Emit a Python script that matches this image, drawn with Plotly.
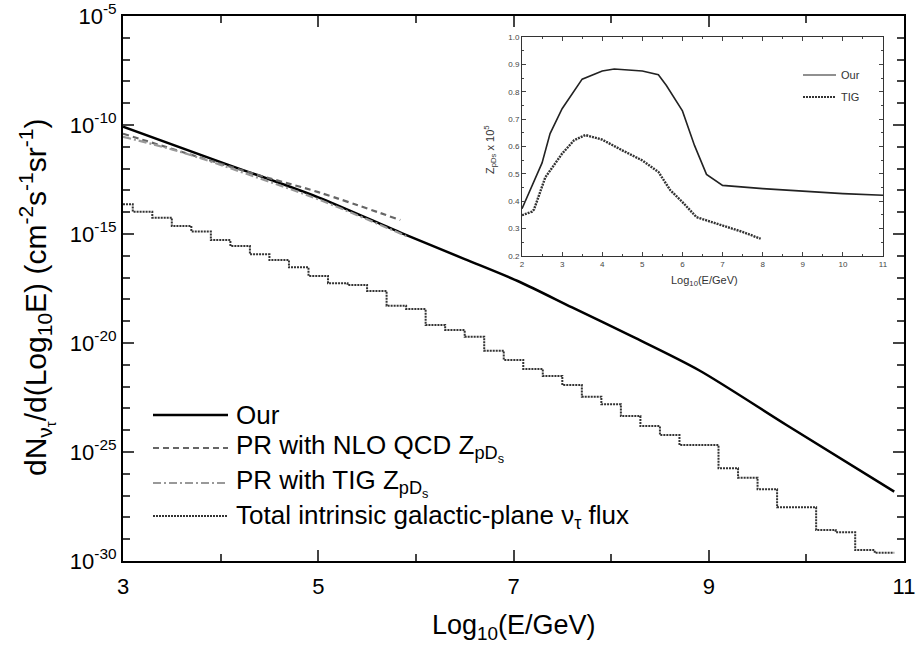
import numpy as np
import plotly.graph_objects as go

# ---- main panel (log10 of flux) ----
our_e = [3.0, 4.0, 5.0, 5.86, 6.5, 7.06, 7.6, 8.22, 8.9, 9.8, 10.9]
our_f = [-10.08, -11.70, -13.32, -14.97, -16.15, -17.19, -18.37, -19.71, -21.25, -23.77, -26.82]

nlo_e = [3.0, 4.38, 5.0, 5.84]
nlo_f = [-10.40, -12.29, -13.08, -14.36]

tig_e = [3.0, 3.6, 4.4, 5.0, 5.9]
tig_f = [-10.54, -11.25, -12.45, -13.41, -15.09]

# galactic-plane histogram, bin centres 3.0, 3.2 ... 10.8
gal_centres = [3.0 + 0.2 * i for i in range(40)]
gal_f = [-13.64, -13.98, -14.25, -14.63, -14.89, -15.28, -15.55, -15.93, -16.19, -16.53,
         -16.93, -17.26, -17.34, -17.61, -18.29, -18.44, -19.17, -19.40, -19.71, -20.35,
         -20.78, -21.19, -21.51, -21.93, -22.46, -22.81, -23.35, -23.81, -24.22, -24.68,
         -24.68, -25.75, -26.18, -26.71, -27.54, -27.54, -28.58, -28.68, -29.50, -29.62]

# ---- inset: Z_pDs x 10^5 ----
ins_our_e = [2.0, 2.5, 2.7, 3.0, 3.5, 4.0, 4.3, 5.0, 5.4, 5.6, 6.0, 6.3, 6.6, 7.0, 8.0, 9.0, 10.0, 11.0]
ins_our_z = [0.373, 0.54, 0.647, 0.738, 0.846, 0.876, 0.883, 0.876, 0.862, 0.823, 0.730, 0.604, 0.498,
             0.458, 0.446, 0.437, 0.428, 0.422]
ins_tig_e = [2.0, 2.25, 2.3, 2.58, 3.0, 3.3, 3.58, 4.0, 4.5, 5.0, 5.4, 5.7, 6.0, 6.35, 6.6, 7.0, 7.5, 7.95]
ins_tig_z = [0.349, 0.362, 0.37, 0.487, 0.574, 0.623, 0.642, 0.625, 0.586, 0.549, 0.507, 0.44, 0.397,
             0.342, 0.330, 0.312, 0.288, 0.263]

FONT = 'Liberation Sans, Arial, sans-serif'
ML, MR, MT, MB = 123, 13, 16, 92
W = 917 - ML - MR
H = 653 - MT - MB


def px(x):
    return (x - ML) / W


def py(y):
    return (653 - MB - y) / H


# histogram edges from centres
edges = [max(c - 0.1, 3.0) for c in gal_centres] + [gal_centres[-1] + 0.1]
gal_y = [10 ** v for v in gal_f] + [10 ** gal_f[-1]]

fig = go.Figure()

fig.add_trace(go.Scatter(x=our_e, y=[10 ** v for v in our_f], mode='lines',
                         line=dict(color='black', width=2.5, shape='spline', smoothing=0.8)))
fig.add_trace(go.Scatter(x=nlo_e, y=[10 ** v for v in nlo_f], mode='lines',
                         line=dict(color='#666666', width=2.2, dash='6px,4px', shape='spline')))
fig.add_trace(go.Scatter(x=tig_e, y=[10 ** v for v in tig_f], mode='lines',
                         line=dict(color='#999999', width=2.2, dash='8px,3px,2px,3px', shape='spline')))
fig.add_trace(go.Scatter(x=edges, y=gal_y, mode='lines', line_shape='hv',
                         line=dict(color='#333333', width=2, dash='2px,1px')))

# inset
fig.add_trace(go.Scatter(x=ins_our_e, y=ins_our_z, mode='lines', xaxis='x2', yaxis='y2',
                         line=dict(color='#222222', width=1.6)))
fig.add_trace(go.Scatter(x=ins_tig_e, y=ins_tig_z, mode='lines', xaxis='x2', yaxis='y2',
                         line=dict(color='#333333', width=2.4, dash='2px,1px')))

decades = list(range(-30, -4))
major = [-30, -25, -20, -15, -10, -5]

fig.update_layout(
    width=917, height=653,
    margin=dict(l=ML, r=MR, t=MT, b=MB),
    paper_bgcolor='white', plot_bgcolor='white',
    showlegend=False,
    font=dict(family=FONT, color='black'),
    xaxis=dict(range=[3, 11], tick0=3, dtick=2, ticks='inside', ticklen=11, tickwidth=2,
               mirror='allticks', showline=True, linewidth=2, linecolor='black',
               showgrid=False, zeroline=False, tickfont=dict(size=22), automargin=False,
               ticklabelstandoff=5,
               minor=dict(dtick=1, tick0=3, ticks='inside', ticklen=7, tickwidth=2)),
    yaxis=dict(type='log', range=[-30, -5],
               tickvals=[10.0 ** d for d in major],
               ticktext=['10<sup>%d</sup>' % d for d in major],
               ticks='inside', ticklen=11, tickwidth=2, automargin=False,
               mirror='allticks', showline=True, linewidth=2, linecolor='black',
               showgrid=False, zeroline=False, tickfont=dict(size=22),
               minor=dict(tickvals=[10.0 ** d for d in decades], ticks='inside', ticklen=7, tickwidth=2)),
    xaxis2=dict(domain=[px(522), px(883)], anchor='y2', range=[2, 11], dtick=1,
                ticks='inside', ticklen=4, tickwidth=1, mirror='allticks', showline=True,
                linewidth=1, linecolor='#333333', showgrid=False, zeroline=False,
                tickfont=dict(size=8, color='#444444'), automargin=False,
                minor=dict(dtick=0.5, ticks='inside', ticklen=2, tickwidth=1)),
    yaxis2=dict(domain=[py(256), py(37)], anchor='x2', range=[0.2, 1.0], dtick=0.1, tickformat='.1f',
                ticks='inside', ticklen=4, tickwidth=1, mirror='allticks', showline=True,
                linewidth=1, linecolor='#333333', showgrid=False, zeroline=False,
                tickfont=dict(size=8, color='#444444'), automargin=False,
                minor=dict(dtick=0.05, ticks='inside', ticklen=2, tickwidth=1)),
)

# axis titles
fig.add_annotation(xref='paper', yref='paper', x=px(514), y=py(627), showarrow=False,
                   xanchor='center', yanchor='middle',
                   text='Log<sub>10</sub>(E/GeV)', font=dict(size=27))
fig.add_annotation(xref='paper', yref='paper', x=px(36), y=py(297), showarrow=False, textangle=-90,
                   xanchor='center', yanchor='middle',
                   text='dN<sub>ν<sub>τ</sub></sub>/d(Log<sub>10</sub>E) (cm<sup>-2</sup>s<sup>-1</sup>sr<sup>-1</sup>)',
                   font=dict(size=30))
fig.add_annotation(xref='paper', yref='paper', x=px(704), y=py(281), showarrow=False,
                   xanchor='center', yanchor='middle',
                   text='Log<sub>10</sub>(E/GeV)', font=dict(size=11, color='#333333'))
fig.add_annotation(xref='paper', yref='paper', x=px(490), y=py(150), showarrow=False, textangle=-90,
                   xanchor='center', yanchor='middle',
                   text='Z<sub>pDs</sub> x 10<sup>5</sup>', font=dict(size=11, color='#333333'))

# main legend (bottom left)
legend_items = [
    ('Our', dict(color='black', width=2.5)),
    ('PR with NLO QCD Z<sub>pD<sub>s</sub></sub>', dict(color='#666666', width=2.2, dash='6px,4px')),
    ('PR with TIG Z<sub>pD<sub>s</sub></sub>', dict(color='#999999', width=2.2, dash='8px,3px,2px,3px')),
    ('Total intrinsic galactic-plane ν<sub>τ</sub> flux', dict(color='#333333', width=2, dash='2px,1px')),
]
legend_y = [415, 448, 483, 516]
for (label, ln), ly in zip(legend_items, legend_y):
    yp = py(ly)
    fig.add_shape(type='line', xref='paper', yref='paper',
                  x0=px(153), x1=px(228), y0=yp, y1=yp, line=ln)
    fig.add_annotation(xref='paper', yref='paper', x=px(234), y=yp, xanchor='left',
                       yanchor='middle', showarrow=False, text=label, font=dict(size=26, color='black'))

# inset legend
for i, (label, ln) in enumerate([('Our', dict(color='#222222', width=1.2)),
                                  ('TIG', dict(color='#333333', width=2.2, dash='2px,1px'))]):
    yp = py(75 + i * 22)
    fig.add_shape(type='line', xref='paper', yref='paper',
                  x0=px(803), x1=px(836), y0=yp, y1=yp, line=ln)
    fig.add_annotation(xref='paper', yref='paper', x=px(839), y=yp, xanchor='left',
                       yanchor='middle', showarrow=False, text=label, font=dict(size=11, color='#333333'))

# drop the browser's default 8px body margin so the figure sits at the window origin
fig.write_html("out.html", config={'displayModeBar': False},
               post_script="document.body.style.margin='0';")
